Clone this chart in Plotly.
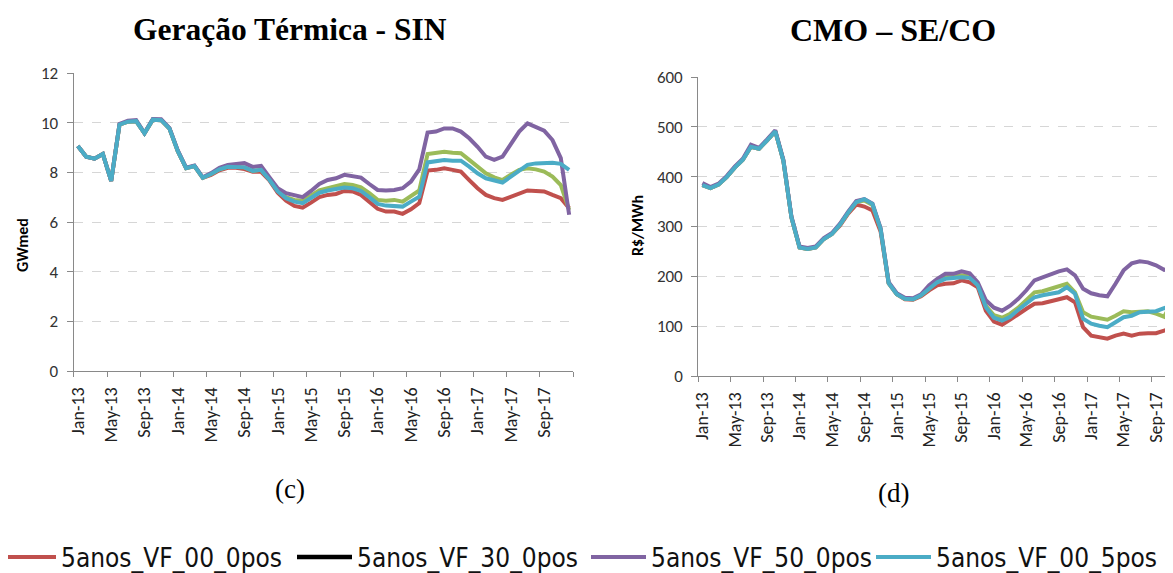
import pandas as pd
import plotly.graph_objects as go

# months Jan-13 .. Dec-17
months = list(pd.date_range("2013-01-01", periods=60, freq="MS").strftime("%b-%y"))
tick_labels = months[::4]

names = ["5anos_VF_00_0pos", "5anos_VF_30_0pos", "5anos_VF_50_0pos", "5anos_VF_00_5pos"]

# Geração Térmica - SIN (GWmed)
gw_00_0 = [9.06, 8.63, 8.55, 8.74, 7.65, 9.92, 10.04, 10.06, 9.57, 10.12,
           10.10, 9.76, 8.85, 8.17, 8.25, 7.78, 7.90, 8.08, 8.18, 8.18,
           8.13, 8.02, 8.02, 7.68, 7.18, 6.86, 6.65, 6.58, 6.78, 7.00,
           7.09, 7.13, 7.25, 7.23, 7.09, 6.82, 6.53, 6.42, 6.42, 6.33,
           6.51, 6.76, 8.07, 8.10, 8.16, 8.10, 8.03, 7.69, 7.36, 7.09,
           6.96, 6.89, 7.02, 7.16, 7.27, 7.25, 7.23, 7.09, 6.96, 6.56]
gw_30_0 = [9.06, 8.63, 8.55, 8.74, 7.65, 9.92, 10.04, 10.06, 9.57, 10.12,
           10.10, 9.76, 8.85, 8.17, 8.25, 7.78, 7.93, 8.12, 8.22, 8.22,
           8.20, 8.06, 8.10, 7.72, 7.29, 7.00, 6.89, 6.86, 7.05, 7.27,
           7.36, 7.43, 7.53, 7.49, 7.40, 7.16, 6.89, 6.86, 6.89, 6.82,
           7.05, 7.27, 8.74, 8.77, 8.83, 8.79, 8.77, 8.50, 8.23, 7.96,
           7.80, 7.69, 7.90, 8.10, 8.16, 8.12, 8.03, 7.83, 7.49, 6.49]
gw_50_0 = [9.06, 8.63, 8.55, 8.74, 7.65, 9.95, 10.08, 10.10, 9.58, 10.15,
           10.14, 9.78, 8.88, 8.19, 8.27, 7.80, 7.97, 8.18, 8.30, 8.33,
           8.37, 8.22, 8.26, 7.80, 7.36, 7.16, 7.09, 7.00, 7.25, 7.53,
           7.69, 7.76, 7.90, 7.86, 7.79, 7.53, 7.29, 7.27, 7.29, 7.36,
           7.63, 8.12, 9.60, 9.64, 9.77, 9.77, 9.64, 9.37, 9.03, 8.63,
           8.50, 8.63, 9.17, 9.64, 9.97, 9.84, 9.68, 9.30, 8.57, 6.29]
gw_00_5 = [9.06, 8.63, 8.55, 8.74, 7.65, 9.92, 10.04, 10.06, 9.57, 10.12,
           10.10, 9.76, 8.85, 8.17, 8.25, 7.78, 7.93, 8.12, 8.22, 8.22,
           8.20, 8.06, 8.10, 7.70, 7.23, 6.96, 6.82, 6.76, 6.96, 7.18,
           7.27, 7.32, 7.39, 7.36, 7.25, 7.00, 6.73, 6.66, 6.66, 6.62,
           6.82, 7.02, 8.40, 8.43, 8.50, 8.47, 8.47, 8.23, 7.96, 7.76,
           7.67, 7.59, 7.83, 8.07, 8.30, 8.36, 8.39, 8.39, 8.34, 8.10]

# CMO - SE/CO (R$/MWh)
cmo_00_0 = [383, 377, 384, 399, 418, 434, 460, 456, 473, 491,
            432, 318, 258, 255, 258, 275, 285, 302, 326, 344,
            340, 332, 290, 186, 164, 154, 153, 160, 172, 182,
            185, 186, 192, 188, 178, 131, 109, 103, 113, 125,
            135, 145, 146, 150, 153, 158, 148, 98, 81, 78,
            75, 81, 85, 81, 85, 86, 86, 91, 95, 88]
cmo_30_0 = [383, 377, 384, 399, 418, 434, 460, 456, 473, 491,
            432, 318, 258, 255, 258, 275, 285, 304, 328, 349,
            352, 343, 295, 186, 164, 155, 154, 162, 175, 193,
            198, 200, 202, 200, 184, 141, 122, 117, 125, 137,
            152, 168, 170, 175, 178, 185, 168, 128, 119, 116,
            113, 121, 130, 128, 130, 130, 125, 119, 148, 100]
cmo_50_0 = [387, 379, 386, 401, 420, 436, 464, 458, 475, 493,
            434, 320, 260, 257, 260, 277, 287, 306, 330, 351,
            355, 346, 297, 188, 166, 157, 156, 164, 182, 195,
            205, 205, 210, 206, 188, 152, 137, 131, 141, 155,
            172, 192, 198, 205, 210, 214, 202, 175, 166, 162,
            160, 185, 212, 226, 230, 228, 222, 213, 218, 130]
cmo_00_5 = [383, 377, 384, 399, 418, 434, 460, 456, 473, 491,
            432, 318, 258, 255, 258, 275, 285, 304, 328, 349,
            355, 345, 295, 186, 164, 155, 154, 162, 175, 188,
            195, 197, 198, 197, 182, 138, 117, 111, 119, 133,
            146, 158, 162, 165, 168, 178, 165, 115, 105, 101,
            98, 108, 118, 121, 128, 129, 130, 136, 141, 150]

colors = ["#c0504d", "#9bbb59", "#8064a2", "#4bacc6"]

# the page body has an 8px margin, so the figure is drawn 8px in from the corner
OFF = 8
W, H = 1173 - OFF, 573 - OFF


def px(x):
    return (x - OFF) / W


def py(y):
    return (H - (y - OFF)) / H


idx = list(range(len(months)))
bounds = [k - 0.5 for k in range(0, len(months) + 1, 4)]

fig = go.Figure()

series = [
    (gw_00_0, cmo_00_0, colors[0], names[0], "legend"),
    (gw_30_0, cmo_30_0, colors[1], names[1], None),
    (gw_50_0, cmo_50_0, colors[2], names[2], "legend3"),
    (gw_00_5, cmo_00_5, colors[3], names[3], "legend4"),
]
for k, (gw, cmo, col, name, leg) in enumerate(series):
    if k == 1:
        # the legend shows this scenario with a black key
        fig.add_scatter(x=[None], y=[None], mode="lines", name=names[1],
                        legend="legend2", line=dict(color="#000000", width=4.5))
    fig.add_scatter(x=idx, y=gw, mode="lines", name=name, showlegend=leg is not None,
                    legend=leg or "legend", line=dict(color=col, width=4),
                    xaxis="x", yaxis="y")
    fig.add_scatter(x=idx, y=cmo, mode="lines", name=name, showlegend=False,
                    line=dict(color=col, width=4), xaxis="x2", yaxis="y2")

sans = "Carlito, Lato, sans-serif"
xcommon = dict(
    tickmode="array", tickvals=idx[::4], ticktext=tick_labels, tickangle=-90,
    ticks="", showline=True, linecolor="#898989", linewidth=1.3,
    showgrid=False, zeroline=False, tickfont=dict(family=sans, size=18, color="#222"),
    ticklabelstandoff=8, automargin=False,
    minor=dict(tickmode="array", tickvals=bounds, ticks="outside", ticklen=5,
               tickcolor="#898989", showgrid=False),
)
ycommon = dict(
    showline=True, linecolor="#898989", linewidth=1.3, ticks="outside", ticklen=6,
    tickcolor="#898989", showgrid=True, gridcolor="#d6d6d6", griddash="dash",
    gridwidth=1.2, zeroline=False, tickfont=dict(family=sans, size=17, color="#333"),
    ticklabelstandoff=5, automargin=False,
)

legend_font = dict(family="Liberation Sans Narrow, DejaVu Sans Condensed, Arial Narrow, sans-serif",
                   size=26, color="#111")


def legend_at(x):
    return dict(orientation="h", x=px(x), xanchor="left", y=py(557), yanchor="middle",
                font=legend_font, itemwidth=55, bgcolor="rgba(0,0,0,0)")


fig.update_layout(
    width=W, height=H,
    margin=dict(l=0, r=0, t=0, b=0, autoexpand=False),
    plot_bgcolor="white", paper_bgcolor="white",
    xaxis=dict(xcommon, domain=[px(73.7), px(573.3)], range=[-0.5, 59.5], anchor="y"),
    yaxis=dict(ycommon, domain=[py(371), py(73)], range=[0, 12], dtick=2, anchor="x"),
    xaxis2=dict(xcommon, domain=[px(698.3), 1.0], range=[-0.5, 58.1], anchor="y2"),
    yaxis2=dict(ycommon, domain=[py(376), py(77)], range=[0, 600], dtick=100, anchor="x2"),
    legend=legend_at(-4),
    legend2=legend_at(292),
    legend3=legend_at(586),
    legend4=legend_at(871),
    showlegend=True,
)

serif = "Liberation Serif, Times New Roman, serif"
annotations = [
    dict(text="<b>Geração Térmica - SIN</b>", x=px(290), y=py(30),
         font=dict(family=serif, size=31.5, color="#000")),
    dict(text="<b>CMO – SE/CO</b>", x=px(893), y=py(30),
         font=dict(family=serif, size=32, color="#000")),
    dict(text="(c)", x=px(290), y=py(489), font=dict(family=serif, size=27, color="#000")),
    dict(text="(d)", x=px(893), y=py(493), font=dict(family=serif, size=27, color="#000")),
    dict(text="<b>GWmed</b>", x=px(22), y=py(245), textangle=-90,
         font=dict(family=sans, size=16, color="#000")),
    dict(text="<b>R$/MWh</b>", x=px(637), y=py(226), textangle=-90,
         font=dict(family=sans, size=16, color="#000")),
]
for a in annotations:
    fig.add_annotation(xref="paper", yref="paper", showarrow=False,
                       xanchor="center", yanchor="middle", **a)

fig.write_html("out.html")
